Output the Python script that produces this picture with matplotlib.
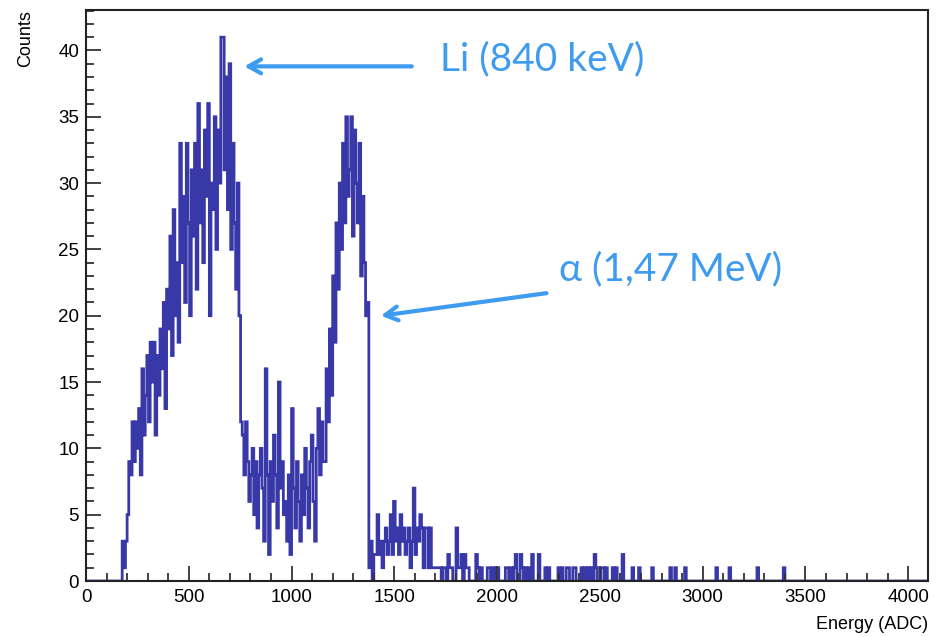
import numpy as np
import matplotlib.pyplot as plt
from matplotlib.ticker import MultipleLocator

# histogram: 512 bins of 8 ADC channels over 0-4096
bin_width = 8
n_bins = 512
start_adc = 160

# Li peak region, ADC 160 .. 752
li_counts = [0, 0, 3, 1, 3, 5, 9, 8, 12, 9, 12, 10, 13, 8, 16, 11, 14, 17, 12, 18,
             15, 18, 11, 17, 14, 19, 16, 21, 13, 22, 19, 26, 17, 28, 20, 24, 18, 33, 24, 29,
             21, 33, 27, 20, 31, 26, 33, 22, 36, 27, 31, 24, 34, 29, 36, 20, 30, 28, 35, 25,
             34, 30, 41, 41, 31, 38, 28, 39, 25, 33, 27, 22, 30, 20, 12]
# valley between the peaks, ADC 760 .. 1152
valley_counts = [11, 8, 12, 9, 6, 8, 10, 5, 9, 4, 8, 10, 7, 3, 16, 8, 2, 9, 6, 11,
                 8, 4, 15, 7, 9, 5, 6, 3, 8, 2, 13, 7, 4, 9, 6, 3, 8, 5, 10, 7,
                 4, 9, 11, 6, 3, 10, 13, 8, 12, 9]
# alpha peak, ADC 1160 .. 1400
alpha_counts = [9, 16, 12, 19, 14, 23, 18, 27, 22, 30, 25, 33, 27, 35, 29, 31, 35, 26, 34, 30,
                27, 33, 23, 29, 24, 20, 21, 1, 3, 0, 2]
# shoulder after the alpha peak, ADC 1408 .. 1696
shoulder_counts = [2, 5, 2, 3, 1, 3, 4, 2, 3, 5, 2, 6, 3, 4, 2, 5, 3, 4, 2, 3,
                   4, 1, 3, 7, 2, 4, 3, 5, 4, 1, 4, 4, 1, 4, 1, 1, 1]

# sparse high-energy events
tail_adc = [1704, 1712, 1720, 1736, 1744, 1760, 1768, 1776, 1800, 1808, 1816, 1824, 1840,
            1848, 1856, 1896, 1904, 1920, 1952, 1960, 1976, 1992, 2000, 2040, 2048, 2064,
            2080, 2088, 2112, 2120, 2136, 2152, 2168, 2200, 2232, 2248, 2296, 2312, 2336,
            2344, 2368, 2376, 2408, 2424, 2440, 2456, 2472, 2480, 2504, 2512, 2528, 2560,
            2576, 2608, 2656, 2688, 2752, 2840, 2864, 2912, 3064, 3128, 3264, 3392]
tail_counts = [1, 1, 1, 1, 1, 2, 1, 1, 4, 1, 1, 2, 2,
               1, 1, 2, 1, 1, 1, 1, 1, 1, 1, 1, 1, 1,
               1, 2, 2, 1, 1, 1, 2, 2, 1, 1, 1, 1, 1,
               1, 1, 1, 1, 1, 1, 1, 2, 1, 1, 1, 1, 1,
               1, 2, 1, 1, 1, 1, 1, 1, 1, 1, 1, 1]

counts = np.zeros(n_bins)
dense = np.concatenate([li_counts, valley_counts, alpha_counts, shoulder_counts])
i0 = start_adc // bin_width
counts[i0:i0 + len(dense)] = dense
for a, c in zip(tail_adc, tail_counts):
    counts[a // bin_width] += c
edges = np.arange(n_bins + 1) * bin_width

fig = plt.figure(figsize=(9.42, 6.37), dpi=100)
ax = fig.add_axes([86 / 942, 1 - 581 / 637, (928 - 86) / 942, (581 - 10) / 637])

ax.stairs(counts, edges, color='#1c1c9c', lw=2.0, alpha=0.88)

ax.set_xlim(0, 4096)
ax.set_ylim(0, 43.05)

lab_font = ['Liberation Sans', 'DejaVu Sans']
ax.xaxis.set_major_locator(MultipleLocator(500))
ax.xaxis.set_minor_locator(MultipleLocator(100))
ax.yaxis.set_major_locator(MultipleLocator(5))
ax.yaxis.set_minor_locator(MultipleLocator(1))
ax.tick_params(which='both', direction='in', top=False, right=False, color='#333333', width=1.3)
ax.tick_params(which='major', length=11, labelsize=13.5)
ax.tick_params(axis='x', which='major', pad=6)
ax.tick_params(axis='y', which='major', pad=5)
ax.tick_params(which='minor', length=6)
for t in ax.get_xticklabels() + ax.get_yticklabels():
    t.set_family(lab_font)
for s in ax.spines.values():
    s.set_linewidth(1.5)
    s.set_color('#222222')

ax.set_ylabel('Counts', loc='top', fontsize=13, family=lab_font)
ax.yaxis.set_label_coords(-0.062, 1.0)
ax.set_xlabel('Energy (ADC)', loc='right', fontsize=13, family=lab_font)
ax.xaxis.set_label_coords(1.0, -0.062)

# peak annotations
blue = '#3d9bf0'
ann_font = ['Lato', 'Open Sans', 'DejaVu Sans']
arrow = dict(arrowstyle='->,head_length=0.9,head_width=0.5', lw=3, color=blue,
             shrinkA=0, shrinkB=0)
ax.annotate('', xy=(770, 38.8), xytext=(1585, 38.8), arrowprops=arrow)
ax.text(1720, 39.3, 'Li (840 keV)', color=blue, fontsize=28, family=ann_font, va='center')
ax.annotate('', xy=(1435, 20.0), xytext=(2240, 21.7), arrowprops=arrow)
ax.text(2300, 23.5, 'α (1,47 MeV)', color=blue, fontsize=28, family=ann_font, va='center')

fig.savefig('out.png', dpi=100)
